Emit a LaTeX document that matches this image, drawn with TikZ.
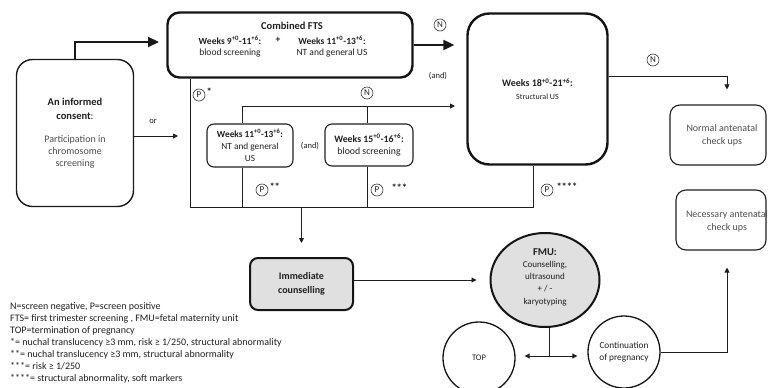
\documentclass[tikz,border=0pt]{standalone}
\usepackage{fontspec}
\setmainfont{Carlito}
\usetikzlibrary{arrows.meta,shapes.geometric}
\newcommand{\bigB}{\fontsize{10.5}{12.5}\selectfont\bfseries}
\newcommand{\midB}{\fontsize{10}{12}\selectfont\bfseries}
\begin{document}
\begin{tikzpicture}[x=1pt,y=-1pt,
  every node/.style={text=black!88},
  ln/.style={line width=0.9pt, draw=black!88},
  arr/.style={ln, -{Triangle[length=5pt,width=5pt]}},
  darr/.style={ln, {Triangle[length=5pt,width=5pt]}-{Triangle[length=5pt,width=5pt]}},
  bigarr/.style={line width=2.2pt, draw=black!90, -{Triangle[length=11pt,width=10pt]}},
  circN/.style={circle, draw=black!80, line width=0.6pt, inner sep=0pt, minimum size=12pt, font=\fontsize{9}{9}\selectfont},
  stars/.style={anchor=west, inner sep=0pt, font=\fontsize{10.5}{10}\selectfont\bfseries},
  sm/.style={font=\fontsize{10}{13}\selectfont, align=center},
  gr/.style={text=black!70},
  thickbox/.style={draw=black!92, line width=2.4pt, rounded corners=#1},
  midbox/.style={draw=black!90, line width=1.4pt, rounded corners=#1},
  thinbox/.style={draw=black!88, line width=1.1pt, rounded corners=#1},
]
\useasboundingbox (0,0) rectangle (768,388);

% ---------- boxes ----------
\node[midbox=16, minimum width=117pt, minimum height=147pt] (consent) at (75,133) {};
\node[align=center, inner sep=0pt, font=\fontsize{10}{12}\selectfont] (consentT) at (75,133)
  {\bigB An informed\\[2pt] \bigB consent\mdseries:\\[11pt]
   \color{black!70}Participation in\\ \color{black!70}chromosome\\ \color{black!70}screening};

\node[thickbox=12, minimum width=245pt, minimum height=65pt] (fts) at (290,45) {};
\node[inner sep=0pt, font=\fontsize{10.5}{12}\selectfont\bfseries] (ftsT) at (292,26) {Combined FTS};
\node[inner sep=0pt, font=\fontsize{9.5}{10}\selectfont\bfseries] (ftsA) at (230,40) {Weeks 9\textsuperscript{+0}-11\textsuperscript{+6}:};
\node[inner sep=0pt, font=\fontsize{9.5}{10}\selectfont\bfseries] (ftsP) at (278,40) {+};
\node[inner sep=0pt, font=\fontsize{9.5}{10}\selectfont\bfseries] (ftsB) at (332,40) {Weeks 11\textsuperscript{+0}-13\textsuperscript{+6}:};
\node[inner sep=0pt, font=\fontsize{9.5}{10}\selectfont] (ftsC) at (230,53) {blood screening};
\node[inner sep=0pt, font=\fontsize{9.5}{10}\selectfont] (ftsD) at (332,53) {NT and general US};

\node[thickbox=22, minimum width=140pt, minimum height=151pt] (us) at (537.5,89) {};
\node[inner sep=0pt, align=center, font=\fontsize{8}{13}\selectfont] (usT) at (537.5,89)
  {\midB Weeks 18\textsuperscript{+0}-21\textsuperscript{+6}:\\ Structural US};

\node[thinbox=7, minimum width=86pt, minimum height=43pt, align=center, font=\fontsize{9.3}{12}\selectfont] (b1) at (250,145.5)
  {\bfseries Weeks 11\textsuperscript{+0}-13\textsuperscript{+6}:\\ NT and general\\ US};
\node[thinbox=7, minimum width=88pt, minimum height=42pt, align=center, font=\fontsize{9.8}{12.5}\selectfont] (b2) at (369,145)
  {\bfseries Weeks 15\textsuperscript{+0}-16\textsuperscript{+6}:\\ blood screening};

\node[thinbox=10, minimum width=96pt, minimum height=60pt] (normal) at (718,135) {};
\node[sm, gr, inner sep=0pt] (normalT) at (722,135) {Normal antenatal\\check ups};
\node[thinbox=10, minimum width=90pt, minimum height=60pt] (nec) at (721,220) {};
\node[sm, gr, inner sep=0pt] (necT) at (727,221) {Necessary antenatal\\check ups};

\node[draw=black!92, line width=2pt, rounded corners=8, fill=black!12, minimum width=103pt, minimum height=52pt,
      align=center, font=\fontsize{10}{14}\selectfont\bfseries] (counsel) at (301.5,284) {Immediate\\counselling};

\node[ellipse, draw=black!92, line width=2pt, fill=black!12, minimum width=109pt, minimum height=94pt, inner sep=0pt] (fmu) at (545,280) {};
\node[inner sep=0pt, align=center, font=\fontsize{9}{12.3}\selectfont] (fmuT) at (545,277)
  {\fontsize{10.5}{12}\selectfont\bfseries FMU:\\ Counselling,\\ ultrasound\\ + / -\\ karyotyping};

\node[circle, draw=black!92, line width=1.3pt, minimum size=72pt, inner sep=0pt, font=\fontsize{8.5}{10}\selectfont] (top) at (479,358) {TOP};
\node[circle, draw=black!92, line width=1.3pt, minimum size=72pt, inner sep=0pt, align=center, font=\fontsize{9.3}{12.5}\selectfont] (cont) at (624,352) {Continuation\\of pregnancy};

% ---------- coordinates ----------
\coordinate (ftsIn) at (159,42);
\coordinate (orEnd) at (178,136);
\coordinate (L) at (190,207);
\coordinate (R) at (533,207);
\coordinate (Nl) at (242,106);
\coordinate (Nm) at (367,106);
\coordinate (Nr) at (455,106);
\coordinate (T) at (549,356);
\coordinate (Rc) at (727,76);

% ---------- connectors ----------
\draw[bigarr] (consent.north) |- (ftsIn);
\draw[bigarr, shorten >=12pt] (fts.east) -- (fts.east -| us.west);
\draw[arr] (consent.east |- orEnd) -- (orEnd);
\draw[ln] (fts.south -| L) -- (L) -- (R) -- (us.south -| R);
\draw[arr] (Nl) -- (Nr);
\draw[ln] (Nl) -- (b1.north -| Nl);
\draw[ln] (Nm) -- (b2.north -| Nm);
\draw[ln] (b1.south -| Nl) -- (Nl |- L);
\draw[ln] (b2.south -| Nm) -- (Nm |- L);
\draw[arr, shorten >=14pt] (counsel.north |- L) -- (counsel.north);
\draw[arr, shorten >=13pt] (counsel.east |- fmu.west) -- (fmu.west);
\draw[ln] (fmu.south -| T) -- (T);
\draw[darr, shorten <=9pt, shorten >=10pt] (top.east |- T) -- (cont.west |- T);
\draw[arr, shorten >=15pt] (us.east |- Rc) -| (normal.north -| Rc);
\draw[arr, shorten >=17pt] (cont.east) -| (nec.south -| Rc);

% ---------- labels ----------
\node[inner sep=0pt, font=\fontsize{8.5}{10}\selectfont] (orL) at (153,121) {or};
\node[inner sep=0pt, font=\fontsize{8.5}{10}\selectfont] (and1) at (438,76) {(and)};
\node[inner sep=0pt, font=\fontsize{8.5}{10}\selectfont] (and2) at (310,146) {(and)};

\node[circN] (n1) at (440,25) {N};
\node[circN] (n2) at (367,93) {N};
\node[circN] (n3) at (653,60) {N};

\node[circN] (p1) at (199,95) {P};
\node[stars] (p1s) at ([xshift=1pt,yshift=3pt]p1.east) {*};
\node[circN] (p2) at (262,190) {P};
\node[stars] (p2s) at ([xshift=1pt,yshift=3pt]p2.east) {**};
\node[circN] (p3) at (377,190) {P};
\node[stars] (p3s) at ([xshift=8pt,yshift=2pt]p3.east) {***};
\node[circN] (p4) at (547,190) {P};
\node[stars] (p4s) at ([xshift=3pt,yshift=3pt]p4.east) {****};

% ---------- legend ----------
\node[anchor=north west, inner sep=0pt, align=left, font=\fontsize{10}{12}\selectfont] (legend) at (10,302)
 {N=screen negative, P=screen positive\\
  FTS= first trimester screening , FMU=fetal maternity unit\\
  TOP=termination of pregnancy\\
  *= nuchal translucency ≥3 mm, risk ≥ 1/250, structural abnormality\\
  **= nuchal translucency ≥3 mm, structural  abnormality\\
  ***= risk ≥ 1/250\\
  ****= structural abnormality, soft markers};
\end{tikzpicture}
\end{document}
